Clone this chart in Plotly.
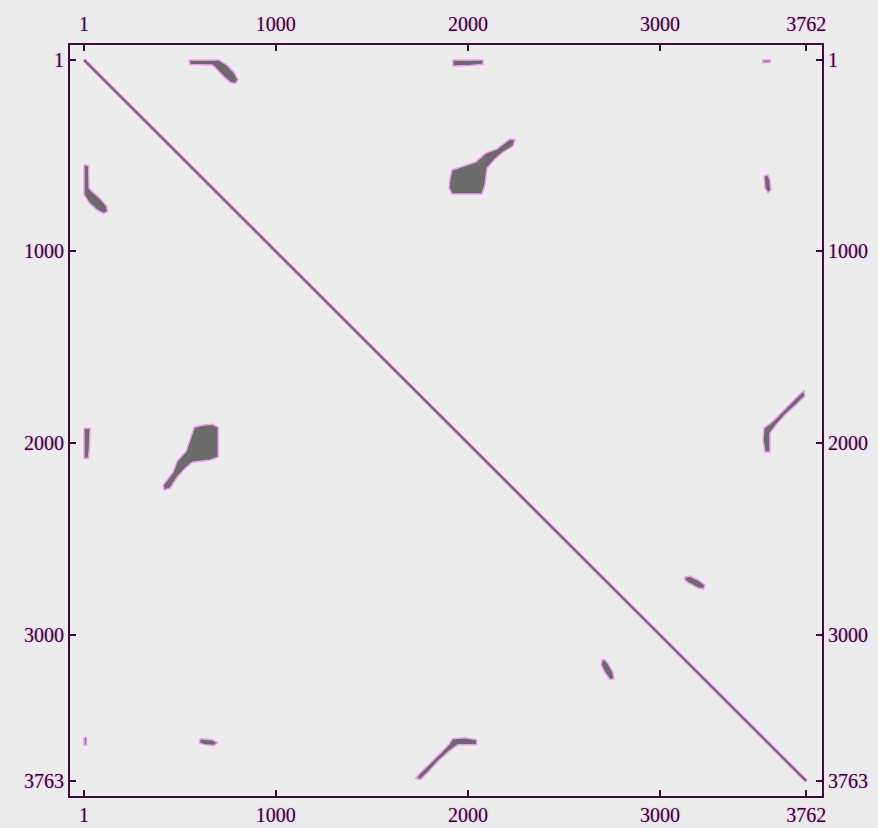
import plotly.graph_objects as go

# Sequence lengths
len_x = 3762
len_y = 3763

# Tick values / labels
x_ticks = [1, 1000, 2000, 3000, 3762]
y_ticks = [1, 1000, 2000, 3000, 3763]

# Similarity regions above the diagonal (sequence positions, x = seq1, y = seq2);
# the plot is symmetric, so each region is also drawn mirrored.
blob_a_x = [548, 702, 745, 782, 803, 790, 762, 724, 684, 668, 553]
blob_a_y = [1, 1, 27, 66, 103, 124, 118, 84, 40, 27, 25]

blob_b_x = [1922, 2079, 2079, 2011, 1922]
blob_b_y = [1, 1, 24, 30, 33]

blob_c_x = [3535, 3575, 3575, 3535]
blob_c_y = [1, 1, 14, 14]

blob_d_x = [1917, 1974, 2042, 2094, 2152, 2219, 2245, 2235, 2178, 2136, 2100, 2089, 2073, 1917, 1902, 1907]
blob_d_y = [575, 554, 533, 486, 465, 413, 418, 450, 486, 523, 565, 653, 700, 700, 669, 617]

blob_e_x = [3542, 3563, 3573, 3578, 3563, 3547]
blob_e_y = [606, 601, 627, 679, 695, 669]

blob_f_x = [3542, 3573, 3615, 3677, 3729, 3750, 3755, 3713, 3656, 3604, 3573, 3573, 3547, 3537]
blob_f_y = [1921, 1900, 1859, 1796, 1744, 1728, 1754, 1796, 1848, 1906, 1948, 2046, 2046, 1984]

blob_g_x = [3130, 3156, 3198, 3234, 3229, 3198, 3151, 3130]
blob_g_y = [2699, 2694, 2714, 2740, 2761, 2756, 2730, 2714]

blobs = [(blob_a_x, blob_a_y), (blob_b_x, blob_b_y), (blob_c_x, blob_c_y),
         (blob_d_x, blob_d_y), (blob_e_x, blob_e_y), (blob_f_x, blob_f_y),
         (blob_g_x, blob_g_y)]

BG = "#ececec"
FILL = "#6b6b6b"
PINK = "#ee9cee"
FRAME = "#3c0c3c"
LABEL = "#2e082e"

fig = go.Figure()

# diagonal (self-match)
fig.add_trace(go.Scatter(x=[1, len_x], y=[1, len_y], mode="lines",
                         line=dict(color=PINK, width=4), hoverinfo="skip", showlegend=False))
fig.add_trace(go.Scatter(x=[1, len_x], y=[1, len_y], mode="lines",
                         line=dict(color="#6f6470", width=2), hoverinfo="skip", showlegend=False))

for bx, by in blobs:
    for xs, ys in ((bx, by), (by, bx)):
        fig.add_trace(go.Scatter(x=xs + [xs[0]], y=ys + [ys[0]], mode="lines",
                                 fill="toself", fillcolor=FILL,
                                 line=dict(color=PINK, width=1.5),
                                 hoverinfo="skip", showlegend=False))

# invisible trace to activate mirrored label axes
fig.add_trace(go.Scatter(x=[1], y=[1], xaxis="x2", yaxis="y2", mode="markers",
                         marker=dict(opacity=0), hoverinfo="skip", showlegend=False))

tickfont = dict(family="Liberation Serif, DejaVu Serif, serif", size=20, color=LABEL,
                shadow="0px 0px 2px #f080f0")
xrange_ = [-72, 3844]
yrange_ = [3841, -77]

common = dict(showgrid=False, zeroline=False, ticks="inside", ticklen=6, tickwidth=1.5,
              tickcolor=FRAME, showline=True, linecolor=FRAME, linewidth=2,
              tickfont=tickfont, automargin=False)

fig.update_layout(
    width=878, height=828,
    margin=dict(l=70, r=56, t=45, b=32),
    paper_bgcolor=BG, plot_bgcolor=BG,
    xaxis=dict(range=xrange_, tickvals=x_ticks, ticktext=[str(v) for v in x_ticks],
               side="bottom", mirror=True, ticklabelstandoff=0, **common),
    yaxis=dict(range=yrange_, tickvals=y_ticks, ticktext=[str(v) for v in y_ticks],
               side="left", mirror=True, ticklabelstandoff=0, **common),
    xaxis2=dict(range=xrange_, tickvals=x_ticks, ticktext=[str(v) for v in x_ticks],
                overlaying="x", side="top", anchor="y", ticklabelstandoff=4, **common),
    yaxis2=dict(range=yrange_, tickvals=y_ticks, ticktext=[str(v) for v in y_ticks],
                overlaying="y", side="right", anchor="x", ticklabelstandoff=0, **common),
)

fig.write_html("out.html", config={"displayModeBar": False},
               post_script="document.body.style.margin='0';document.body.style.background='#ececec';")
